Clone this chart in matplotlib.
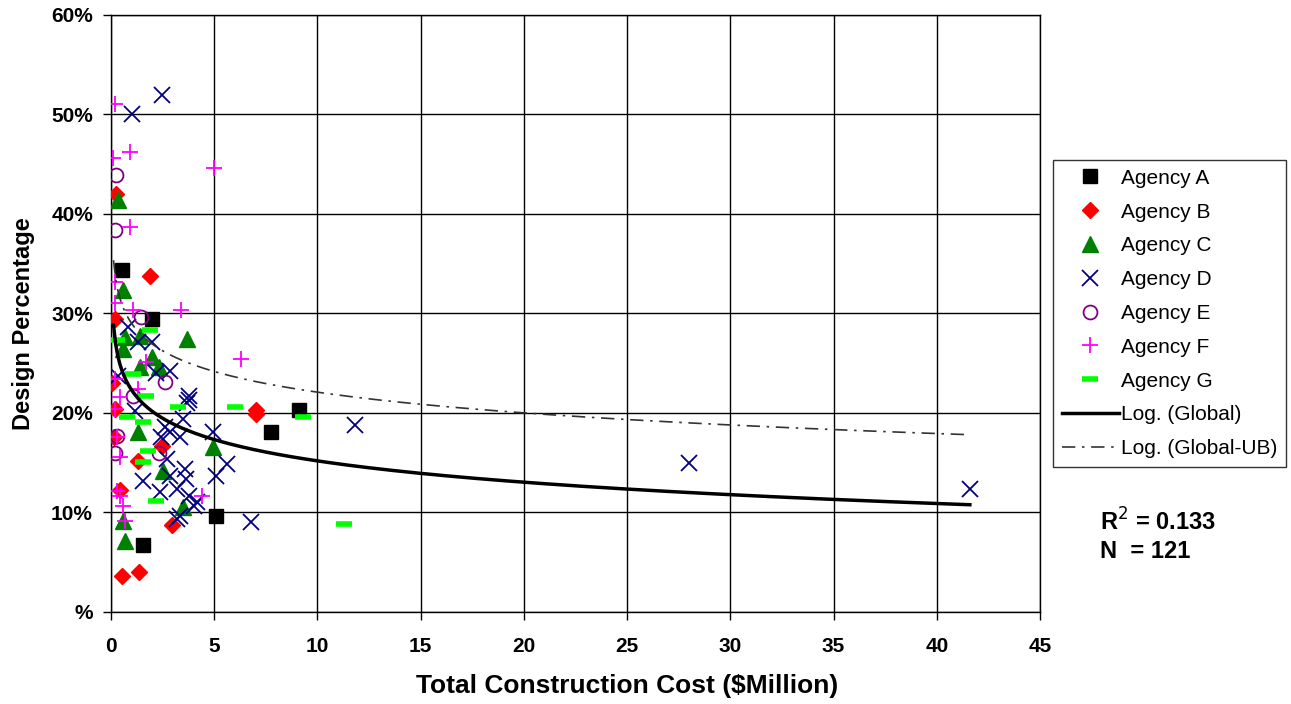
import numpy as np
import matplotlib
matplotlib.use('Agg')
import matplotlib.pyplot as plt
from matplotlib.ticker import FixedLocator, FixedFormatter

plt.rcParams['font.family'] = ['Liberation Sans', 'DejaVu Sans']

# data (cost in $Million, design percentage in %)
a_x = [0.53, 2.0, 1.55, 5.1, 7.74, 9.1]
a_y = [34.4, 29.4, 6.7, 9.6, 18.1, 20.3]

b_x = [0.25, 1.9, 0.2, 0.05, 0.2, 0.15, 1.3, 2.47, 0.45, 2.95, 0.53, 1.35, 7.0, 7.0]
b_y = [42.0, 33.8, 29.4, 23.0, 20.4, 17.6, 15.2, 16.7, 12.3, 8.7, 3.6, 4.0, 20.3, 19.9]

c_x = [0.35, 0.58, 3.7, 1.4, 0.68, 0.58, 2.0, 1.4, 2.3, 1.3, 4.95, 2.5, 3.5, 0.6, 0.68]
c_y = [41.4, 32.4, 27.4, 27.7, 27.6, 26.4, 25.6, 24.6, 24.6, 18.1, 16.6, 14.2, 10.6, 9.1, 7.1]

d_x = [1.0, 2.47, 11.8, 28.0, 41.6, 6.8, 0.8, 1.3, 2.0, 2.85, 2.2, 0.35, 3.8, 3.8,
       1.15, 3.7, 2.85, 3.5, 3.35, 4.95, 5.6, 5.1, 1.55, 2.7, 2.85, 3.6, 3.65, 2.37,
       3.2, 3.8, 4.15, 4.0, 3.35, 3.2, 2.6, 2.4]
d_y = [50.0, 52.0, 18.8, 15.0, 12.4, 9.0, 28.6, 27.1, 27.1, 24.2, 24.0, 23.7, 21.7, 21.3,
       20.2, 21.0, 18.1, 19.4, 17.6, 18.1, 14.9, 13.7, 13.2, 15.4, 13.7, 14.4, 13.4, 12.1,
       12.4, 11.7, 11.1, 10.7, 9.6, 9.3, 18.6, 17.6]

e_x = [0.25, 0.2, 1.45, 2.6, 1.07, 0.3, 0.2, 2.3]
e_y = [43.9, 38.4, 29.6, 23.1, 21.7, 17.7, 16.0, 16.0]

f_x = [0.2, 0.92, 0.1, 5.0, 0.92, 0.2, 0.2, 1.07, 3.4, 6.3, 1.7, 0.2, 1.3, 0.45,
       0.2, 0.3, 0.45, 0.3, 0.6, 0.68, 4.4, 0.45]
f_y = [51.1, 46.2, 45.6, 44.6, 38.7, 33.2, 31.1, 30.4, 30.4, 25.4, 25.1, 23.4, 22.4, 21.6,
       20.4, 17.6, 15.6, 12.2, 10.7, 9.1, 11.7, 11.7]

g_x = [1.9, 0.3, 1.07, 1.7, 3.25, 6.0, 0.77, 1.55, 1.8, 1.55, 2.2, 9.3, 11.3]
g_y = [28.3, 27.3, 23.9, 21.7, 20.6, 20.6, 19.6, 19.1, 16.2, 15.1, 11.2, 19.6, 8.8]

# log trend lines: y = a + b * ln(x)  (in %)
global_fit = (22.3, -3.09)
global_ub_fit = (29.0, -3.0)
trend_range = (0.12, 41.6)

x_ticks = [0, 5, 10, 15, 20, 25, 30, 35, 40, 45]
y_ticks = [0, 10, 20, 30, 40, 50, 60]
y_tick_labels = ['%', '10%', '20%', '30%', '40%', '50%', '60%']

fig = plt.figure(figsize=(12.91, 7.04), dpi=100)
ax = fig.add_axes([0.086, 0.1307, 0.7196, 0.8480])

ax.plot(a_x, a_y, ls='none', marker='s', ms=10, color='black', label='Agency A', zorder=3)
ax.plot(b_x, b_y, ls='none', marker='D', ms=8.5, color='#ff0000', label='Agency B', zorder=3)
ax.plot(c_x, c_y, ls='none', marker='^', ms=11, color='#008000', label='Agency C', zorder=3)
ax.plot(d_x, d_y, ls='none', marker='x', ms=11, mew=1.3, color='#000080', label='Agency D', zorder=3)
ax.plot(e_x, e_y, ls='none', marker='o', ms=10, mew=1.3, mfc='none', color='#800080', label='Agency E', zorder=3)
ax.plot(f_x, f_y, ls='none', marker='+', ms=11, mew=1.3, color='#ff00ff', label='Agency F', zorder=3)
ax.plot(g_x, g_y, ls='none', marker='_', ms=11, mew=4, color='#00ff00', label='Agency G', zorder=3)

xs = np.linspace(trend_range[0], trend_range[1], 400)
ax.plot(xs, global_fit[0] + global_fit[1] * np.log(xs), color='black', lw=2.5,
        label='Log. (Global)', zorder=4)
ax.plot(xs, global_ub_fit[0] + global_ub_fit[1] * np.log(xs), color='#333333', lw=1.2,
        dashes=(8, 4, 1.5, 4), label='Log. (Global-UB)', zorder=4)

ax.set_xlim(0, 45)
ax.set_ylim(0, 60)
ax.xaxis.set_major_locator(FixedLocator(x_ticks))
ax.yaxis.set_major_locator(FixedLocator(y_ticks))
ax.yaxis.set_major_formatter(FixedFormatter(y_tick_labels))
ax.grid(True, color='black', lw=1)
ax.set_axisbelow(True)
for s in ax.spines.values():
    s.set_color('black')
    s.set_linewidth(1)
ax.tick_params(direction='out', length=6, labelsize=15, width=1)
ax.tick_params(axis='x', pad=12)
ax.tick_params(axis='y', pad=7)
for lab in ax.get_xticklabels() + ax.get_yticklabels():
    lab.set_fontweight('bold')

# axis titles placed like the original (x title sits right of centre)
fig.text(0.4857, 0.025, 'Total Construction Cost ($Million)', fontsize=19, fontweight='bold',
         ha='center', va='center')
fig.text(0.018, 0.54, 'Design Percentage', fontsize=17, fontweight='bold',
         ha='center', va='center', rotation=90)

leg = fig.legend(loc='upper left', bbox_to_anchor=(0.8157, 0.7727), bbox_transform=fig.transFigure,
                 fontsize=15, frameon=True, fancybox=False, edgecolor='black',
                 handlelength=2.75, handletextpad=0.1, labelspacing=0.71, borderpad=0.42,
                 borderaxespad=0)
leg.get_frame().set_linewidth(1)

fig.text(0.852, 0.246, 'R$^2$ = 0.133', fontsize=17, fontweight='bold')
fig.text(0.852, 0.207, 'N  = 121', fontsize=17, fontweight='bold')

fig.savefig('out.png', dpi=100)
